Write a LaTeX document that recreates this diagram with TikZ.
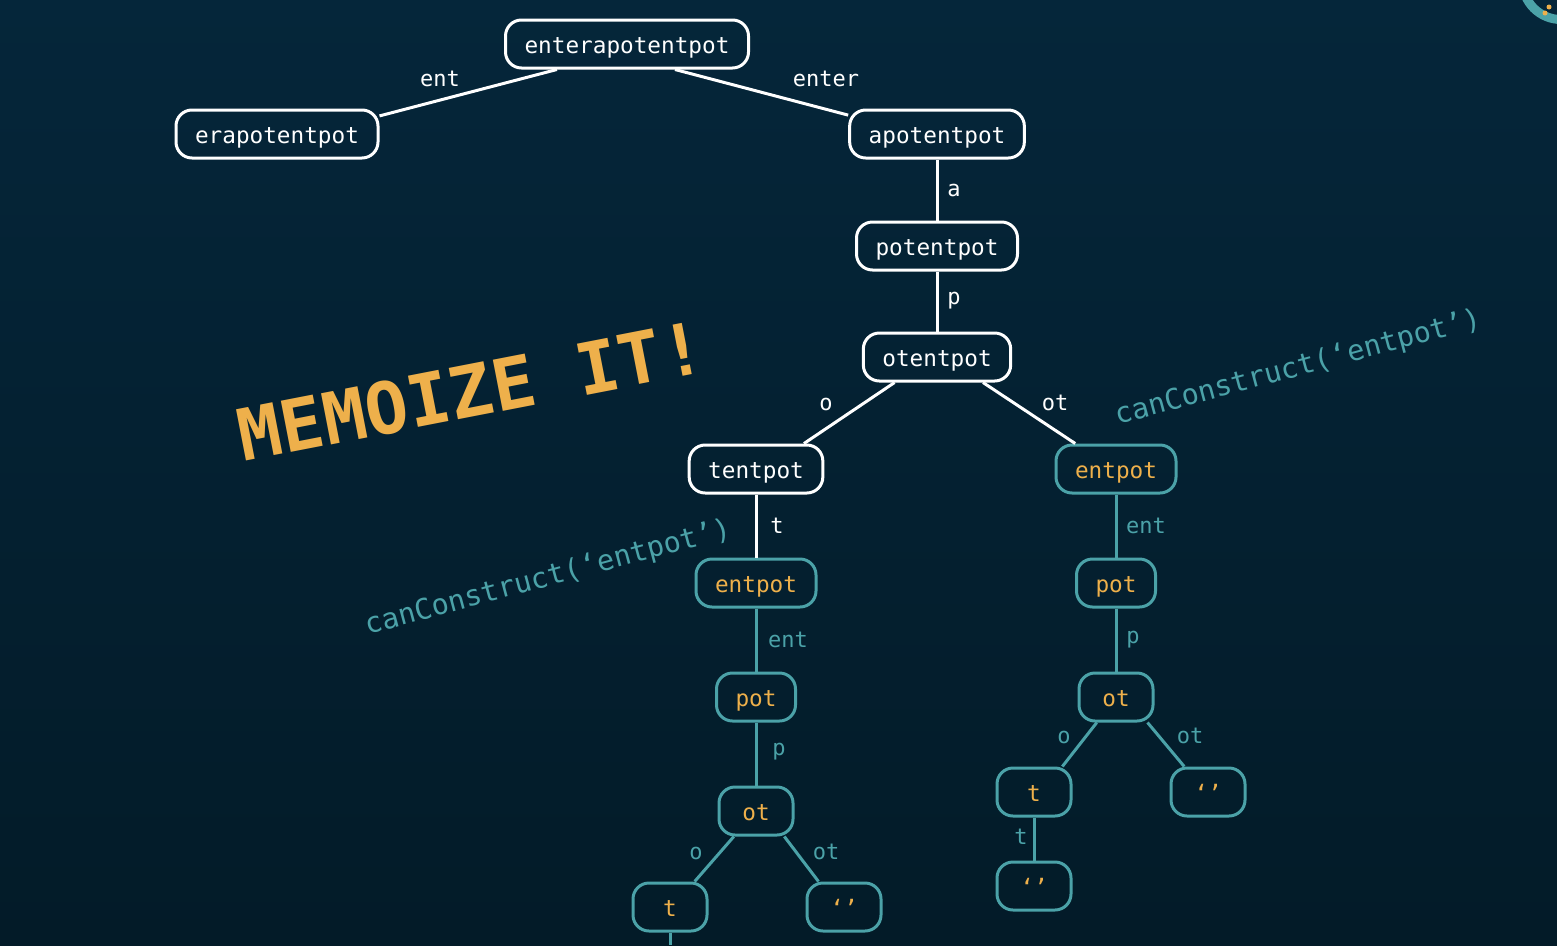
\documentclass[tikz,border=0pt]{standalone}
\usepackage{fontspec}
\setmonofont{DejaVu Sans Mono}
\usetikzlibrary{positioning}
\definecolor{bgtop}{HTML}{05263A}
\definecolor{bgbot}{HTML}{031B28}
\definecolor{memoteal}{HTML}{4BA2A8}
\definecolor{memoorange}{HTML}{EEB04B}

\begin{document}
\begin{tikzpicture}[x=1pt,y=1pt]
                    \tikzstyle{wbox}=[draw=white, line width=3pt, rounded corners=16pt, text=white, font=\ttfamily\fontsize{22.7}{27}\selectfont, text height=18pt, text depth=0pt, minimum height=48pt, minimum width=74pt, inner xsep=19pt]
                    \tikzstyle{tbox}=[wbox, draw=memoteal, text=memoorange]
                    \tikzstyle{wedge}=[white, line width=3pt]
                    \tikzstyle{tedge}=[memoteal, line width=3pt]
                    \tikzstyle{wlbl}=[text=white, inner sep=0pt, font=\ttfamily\fontsize{22}{26}\selectfont, text height=12pt, text depth=0pt]
                    \tikzstyle{tlbl}=[wlbl, text=memoteal]
                    \useasboundingbox (0,0) rectangle (1557,-945);
                    \clip (0,0) rectangle (1557,-945);
                    \shade [top color=bgtop, bottom color=bgbot] (0,0) rectangle (1557,-945);
                    % corner badge
                    \draw [memoteal, line width=9pt] (1561,19) circle (38.5);
                    \fill [memoorange] (1545,-13) circle (2.5);
                    \fill [memoorange] (1549,-7) circle (2.5);
                    % upper tree
                    \node [wbox] (root) at (627,-44) {enterapotentpot};
                    \node [wbox] (era) at (277,-134) {erapotentpot};
                    \node [wbox] (apot) at (937,-134) {apotentpot};
                    \node [wbox] (potp) at (937,-246) {potentpot};
                    \node [wbox] (otp) at (937,-357) {otentpot};
                    \node [wbox] (tentp) at (756,-469) {tentpot};
                    % left branch
                    \node [tbox] (entL) at (756,-583) {entpot};
                    \node [tbox] (potL) at (756,-697) {pot};
                    \node [tbox] (otL) at (756,-811) {ot};
                    \node [tbox] (tL) at (670,-907) {t};
                    \node [tbox] (eL) at (844,-907) {‘’};
                    \coordinate (tLbot) at (670,-945);
                    % right branch
                    \node [tbox] (entR) at (1116,-469) {entpot};
                    \node [tbox] (potR) at (1116,-583) {pot};
                    \node [tbox] (otR) at (1116,-697) {ot};
                    \node [tbox] (tR) at (1034,-792) {t};
                    \node [tbox] (eR) at (1208,-792) {‘’};
                    \node [tbox] (eRR) at (1034,-886) {‘’};
                    \draw [wedge] (root.200) -- (era.10);
                    \draw [wedge] (root.332) -- (apot.168);
                    \draw [wedge] (apot) -- (potp);
                    \draw [wedge] (potp) -- (otp);
                    \draw [wedge] (otp.211) -- (tentp.28);
                    \draw [wedge] (otp.331) -- (entR.148);
                    \draw [wedge] (tentp) -- (entL);
                    \draw [tedge] (entL) -- (potL);
                    \draw [tedge] (potL) -- (otL);
                    \draw [tedge] (otL.229) -- (tL.46);
                    \draw [tedge] (otL.318) -- (eL.135);
                    \draw [tedge] (tL.south) -- (tLbot);
                    \draw [tedge] (entR) -- (potR);
                    \draw [tedge] (potR) -- (otR);
                    \draw [tedge] (otR.233) -- (tR.42);
                    \draw [tedge] (otR.321) -- (eR.133);
                    \draw [tedge] (tR) -- (eRR);
                    % edge labels
                    \node [wlbl] (lent) at (440,-80) {ent};
                    \node [wlbl] (lenter) at (826,-80) {enter};
                    \node [wlbl] (la) at (954,-190) {a};
                    \node [wlbl] (lp) at (954,-298) {p};
                    \node [wlbl] (lo) at (826,-404) {o};
                    \node [wlbl] (lot) at (1055,-404) {ot};
                    \node [wlbl] (lt) at (777,-527) {t};
                    \node [tlbl] (lentL) at (788,-641) {ent};
                    \node [tlbl] (lpL) at (779,-749) {p};
                    \node [tlbl] (loL) at (696,-853) {o};
                    \node [tlbl] (lotL) at (826,-853) {ot};
                    \node [tlbl] (lentR) at (1146,-527) {ent};
                    \node [tlbl] (lpR) at (1133,-637) {p};
                    \node [tlbl] (loR) at (1064,-737) {o};
                    \node [tlbl] (lotR) at (1190,-737) {ot};
                    \node [tlbl] (ltR) at (1021,-838) {t};
                    % captions
                    \node [text=memoorange, font=\ttfamily\bfseries\fontsize{71.5}{80}\selectfont, rotate=11] (memo) at (471,-391) {MEMOIZE IT!};
                    \node [text=memoteal, font=\ttfamily\fontsize{28.5}{32}\selectfont, rotate=15] (ccL) at (548,-578) {canConstruct(‘entpot’)};
                    \node [text=memoteal, font=\ttfamily\fontsize{28.5}{32}\selectfont, rotate=15] (ccR) at (1298,-368) {canConstruct(‘entpot’)};
                \end{tikzpicture}
\end{document}
